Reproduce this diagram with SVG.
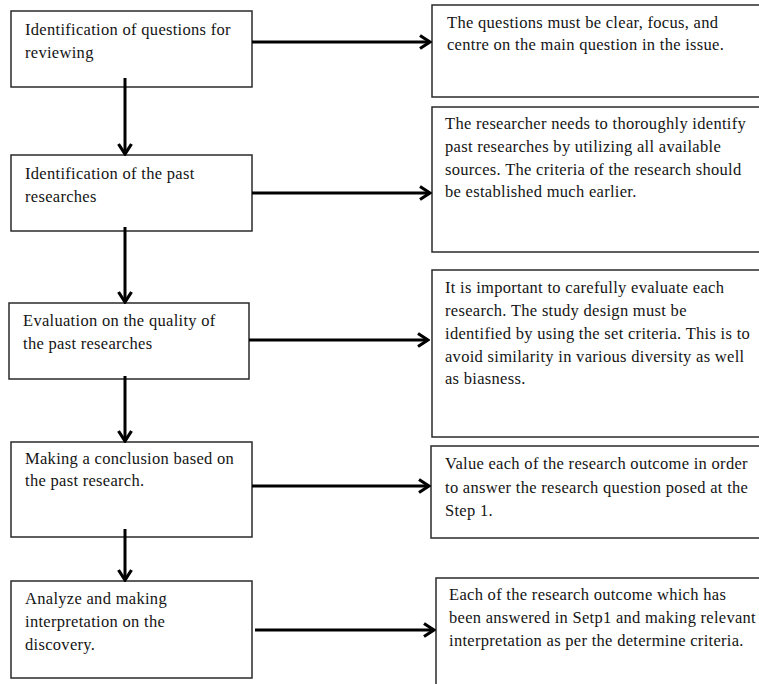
<svg xmlns="http://www.w3.org/2000/svg" width="759" height="684" viewBox="0 0 759 684">
<style>
.box{fill:#fff;stroke:#2a2a2a;stroke-width:1.5}
.t{font-family:"Liberation Serif","DejaVu Serif",serif;font-size:16.5px;letter-spacing:0.3px;fill:#141414}
.c{fill:none;stroke:#000;stroke-width:3}
</style>
<defs>
<marker id="ah" viewBox="0 0 14 16" markerWidth="14" markerHeight="16" refX="12" refY="8" orient="auto" markerUnits="userSpaceOnUse">
<path d="M2,1.5 L12,8 L2,14.5" fill="none" stroke="#000" stroke-width="3.2" stroke-linejoin="miter"/>
</marker>
</defs>
<rect width="759" height="684" fill="#fff"/>
<g id="n1"><rect class="box" x="11" y="11" width="241" height="76"/>
<text class="t" x="25" y="35">Identification of questions for</text>
<text class="t" x="25" y="58">reviewing</text></g>
<g id="n2"><rect class="box" x="11" y="155" width="241" height="76"/>
<text class="t" x="25" y="179">Identification of the past</text>
<text class="t" x="25" y="202">researches</text></g>
<g id="n3"><rect class="box" x="9" y="303" width="240" height="76"/>
<text class="t" x="23" y="326">Evaluation on the quality of</text>
<text class="t" x="23" y="349">the past researches</text></g>
<g id="n4"><rect class="box" x="11" y="442" width="241" height="95"/>
<text class="t" x="25" y="464">Making a conclusion based on</text>
<text class="t" x="25" y="486">the past research.</text></g>
<g id="n5"><rect class="box" x="11" y="581" width="241" height="97"/>
<text class="t" x="25" y="604">Analyze and making</text>
<text class="t" x="25" y="627">interpretation on the</text>
<text class="t" x="25" y="650">discovery.</text></g>
<g id="r1"><rect class="box" x="432" y="5" width="340" height="92"/>
<text class="t" x="447" y="28">The questions must be clear,  focus, and</text>
<text class="t" x="447" y="50">centre on the main question in the issue.</text></g>
<g id="r2"><rect class="box" x="432" y="107" width="340" height="145"/>
<text class="t" x="445" y="129">The researcher needs to thoroughly identify</text>
<text class="t" x="445" y="152">past researches by utilizing  all available</text>
<text class="t" x="445" y="175">sources. The criteria  of the research should</text>
<text class="t" x="445" y="197">be established much earlier.</text></g>
<g id="r3"><rect class="box" x="432" y="270" width="340" height="167"/>
<text class="t" x="445" y="293">It is important to carefully evaluate each</text>
<text class="t" x="445" y="316">research. The study design  must be</text>
<text class="t" x="445" y="339">identified by using the set criteria.  This is to</text>
<text class="t" x="445" y="362">avoid similarity in various diversity  as well</text>
<text class="t" x="445" y="384">as biasness.</text></g>
<g id="r4"><rect class="box" x="431" y="446" width="340" height="92"/>
<text class="t" x="445" y="469">Value each of the research outcome in order</text>
<text class="t" x="445" y="493">to answer the research question posed at the</text>
<text class="t" x="445" y="516">Step 1.</text></g>
<g id="r5"><rect class="box" x="436" y="578" width="340" height="120"/>
<text class="t" x="449" y="600">Each of the research outcome which has</text>
<text class="t" x="449" y="623" textLength="307" lengthAdjust="spacingAndGlyphs">been answered in  Setp1  and making relevant</text>
<text class="t" x="449" y="646">interpretation as per the determine criteria.</text></g>
<g id="connectors">
<line class="c" x1="252" y1="42" x2="430" y2="42" marker-end="url(#ah)"/>
<line class="c" x1="252" y1="193" x2="430" y2="193" marker-end="url(#ah)"/>
<line class="c" x1="249" y1="340" x2="428" y2="340" marker-end="url(#ah)"/>
<line class="c" x1="252" y1="486" x2="429" y2="486" marker-end="url(#ah)"/>
<line class="c" x1="255" y1="630" x2="434" y2="630" marker-end="url(#ah)"/>
<line class="c" x1="125" y1="78" x2="125" y2="154" marker-end="url(#ah)"/>
<line class="c" x1="125" y1="227" x2="125" y2="302" marker-end="url(#ah)"/>
<line class="c" x1="125" y1="376" x2="125" y2="441" marker-end="url(#ah)"/>
<line class="c" x1="125" y1="529" x2="125" y2="580" marker-end="url(#ah)"/>
</g>
</svg>
